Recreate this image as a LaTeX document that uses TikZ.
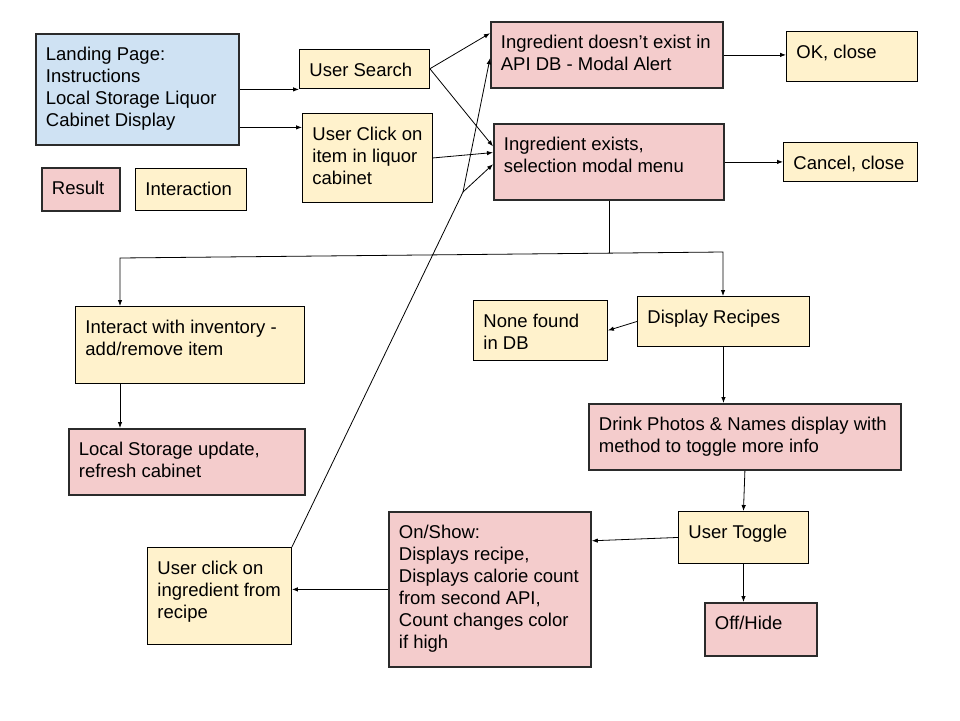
\documentclass[tikz,border=0pt]{standalone}
\usepackage{fontspec}
\setmainfont{Liberation Sans}
\usetikzlibrary{arrows.meta,calc}
\definecolor{yel}{HTML}{FFF2CC}
\definecolor{pnk}{HTML}{F4CCCC}
\definecolor{blu}{HTML}{CFE2F3}
\definecolor{edge}{HTML}{2B2B2B}
\newcommand\bx[6]{\node[#1] (#2) at (#3) {\begin{minipage}[t][\dimexpr#5pt-23.2pt\relax][t]{\dimexpr#4pt-20pt\relax}\raggedright\strut #6\end{minipage}};}
\begin{document}
\begin{tikzpicture}[x=1pt,y=-1pt,
  base/.style={rectangle, anchor=north west, inner xsep=10pt, inner ysep=11.6pt,
    font=\fontsize{18.5}{22}\selectfont, text=black},
  ybox/.style={base, fill=yel, draw=black, line width=0.9pt},
  pbox/.style={base, fill=pnk, draw=edge, line width=1.8pt},
  bbox/.style={base, fill=blu, draw=edge, line width=1.8pt},
  arr/.style={-{Latex[length=6pt,width=4.5pt]}, line width=0.8pt, draw=black},
  con/.style={line width=0.8pt, draw=black}]
\useasboundingbox (0,0) rectangle (960,720);
\fill[white] (0,0) rectangle (960,720);

\bx{bbox}{landing}{35,33}{203}{111}{Landing Page:\\Instructions\\Local Storage Liquor\\Cabinet Display}
\bx{pbox}{result}{41,167}{78}{43}{Result}
\bx{ybox}{interaction}{135,168}{111}{42}{Interaction}
\bx{ybox}{search}{299,49}{130}{38}{User Search}
\bx{ybox}{click}{302,113}{130}{89}{User Click on\\item in liquor\\cabinet}
\bx{pbox}{ingno}{490,21}{232}{66}{Ingredient doesn’t exist in\\API DB - Modal Alert}
\bx{pbox}{ingyes}{493,123}{230}{76}{Ingredient exists,\\selection modal menu}
\bx{ybox}{ok}{786,31}{131}{50}{OK, close}
\bx{ybox}{cancel}{783,142}{134}{38}{Cancel, close}
\bx{ybox}{inter}{75,306}{229}{77}{Interact with inventory -\\add/remove item}
\bx{pbox}{local}{68,428}{236}{66}{Local Storage update,\\refresh cabinet}
\bx{ybox}{none}{473,300}{134}{60}{None found\\in DB}
\bx{ybox}{recipes}{637,296}{172}{50}{Display Recipes}
\bx{pbox}{drink}{588,403}{312}{66}{Drink Photos \& Names display with\\method to toggle more info}
\bx{ybox}{toggle}{678,511}{130}{52}{User Toggle}
\bx{pbox}{onshow}{388,511}{202}{155}{On/Show:\\Displays recipe,\\Displays calorie count\\from second API,\\Count changes color\\if high}
\bx{ybox}{uclick}{147,547}{144}{97}{User click on\\ingredient from\\recipe}
\bx{pbox}{off}{704,602}{112}{53}{Off/Hide}

% connectors
\draw[arr] (landing.east) -- (landing.east -| search.west);
\draw[arr] ([yshift=-38pt]landing.east) coordinate (a1) -- (a1 -| click.west);
\draw[arr] (search.east) -- ($(ingno.north west)!0.18!(ingno.south west)$);
\draw[arr] (search.east) -- ($(ingyes.north west)!0.3!(ingyes.south west)$);
\draw[arr] (click.east) -- ($(ingyes.north west)!0.38!(ingyes.south west)$);
\coordinate (jb) at (463,192);
\draw[con] (uclick.north east) -- (jb);
\draw[arr] (jb) -- ($(ingno.north west)!0.55!(ingno.south west)$);
\draw[arr] (jb) -- ($(ingyes.north west)!0.53!(ingyes.south west)$);
\draw[arr] (ingno.east) -- (ingno.east -| ok.west);
\draw[arr] (ingyes.east) -- (ingyes.east -| cancel.west);
\coordinate (jl) at (120,258);
\coordinate (jr) at (723,252);
\coordinate (jm) at ($(jl)!0.811!(jr)$);
\draw[con] (jm |- ingyes.south) -- (jm);
\draw[arr] (jm) -- (jr) -- (jr |- recipes.north);
\draw[arr] (jm) -- (jl) -- (jl |- inter.north);
\draw[arr] (jl |- inter.south) -- (jl |- local.north);
\draw[arr] (recipes.west) -- (none.east);
\draw[arr] (recipes.south) -- (recipes.south |- drink.north);
\draw[arr] (drink.south) -- (toggle.north);
\draw[arr] (toggle.west) -- ($(onshow.north east)!0.19!(onshow.south east)$);
\draw[arr] (onshow.west) -- (onshow.west -| uclick.east);
\draw[arr] (toggle.south) -- (toggle.south |- off.north);
\end{tikzpicture}
\end{document}
